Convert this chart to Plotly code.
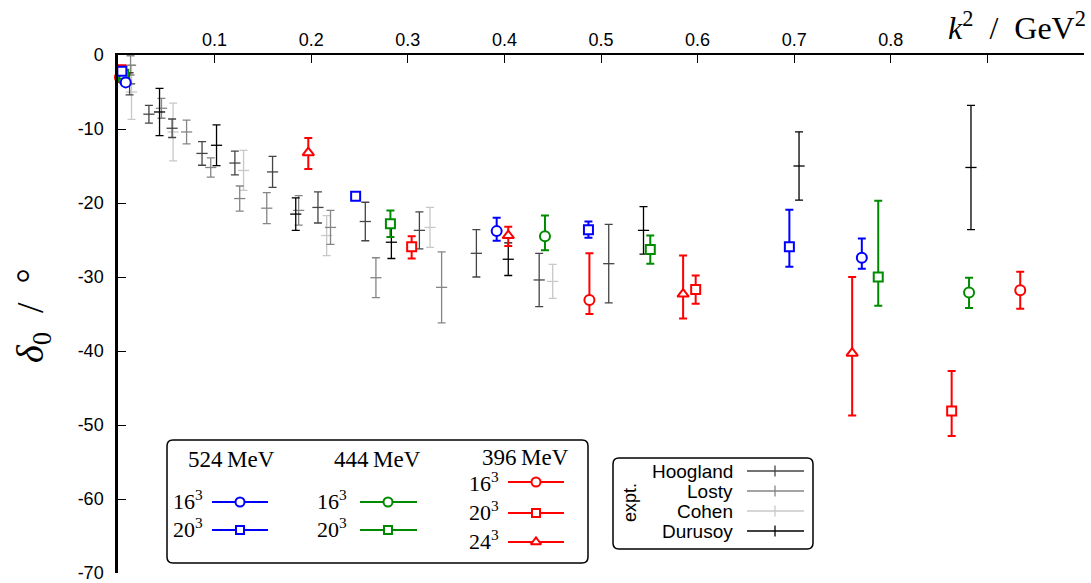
import plotly.graph_objects as go

# ---------------- data (k^2 in GeV^2, delta_0 in degrees) ----------------
# Lattice, m_pi = 524 MeV
k2_524_16 = [0.008, 0.392, 0.770]
d0_524_16 = [-3.7, -23.8, -27.4]
ep_524_16 = [0.5, 1.8, 2.6]
em_524_16 = [0.5, 1.3, 1.5]

k2_524_20 = [0.004, 0.246, 0.487, 0.695]
d0_524_20 = [-2.2, -19.1, -23.6, -25.9]
ep_524_20 = [0.4, 0.3, 1.1, 5.0]
em_524_20 = [0.4, 0.3, 1.1, 2.7]

# Lattice, m_pi = 444 MeV
k2_444_16 = [0.006, 0.442, 0.881]
d0_444_16 = [-3.3, -24.5, -32.1]
ep_444_16 = [0.5, 2.8, 2.0]
em_444_16 = [0.5, 1.9, 2.1]

k2_444_20 = [0.006, 0.282, 0.551, 0.787]
d0_444_20 = [-2.6, -22.8, -26.3, -30.0]
ep_444_20 = [0.4, 1.8, 1.9, 10.3]
em_444_20 = [0.4, 1.8, 1.9, 3.9]

# Lattice, m_pi = 396 MeV
k2_396_16 = [0.002, 0.488, 0.934]
d0_396_16 = [-3.0, -33.1, -31.8]
ep_396_16 = [0.5, 6.3, 2.5]
em_396_16 = [0.5, 1.9, 2.5]

k2_396_20 = [0.003, 0.304, 0.598, 0.863]
d0_396_20 = [-2.0, -25.9, -31.7, -48.1]
ep_396_20 = [0.4, 1.4, 1.9, 5.4]
em_396_20 = [0.4, 1.6, 1.9, 3.4]

k2_396_24 = [0.197, 0.404, 0.585, 0.760]
d0_396_24 = [-13.2, -24.4, -32.3, -40.3]
ep_396_24 = [2.0, 1.2, 5.2, 10.3]
em_396_24 = [2.2, 1.4, 3.3, 8.4]

# Experiment
k2_hoogland = [0.012, 0.032, 0.056, 0.087, 0.121, 0.160, 0.207, 0.256, 0.312, 0.371, 0.436, 0.508]
d0_hoogland = [-3.9, -8.0, -9.9, -13.3, -14.6, -15.8, -20.6, -22.5, -23.7, -26.8, -30.4, -28.2]
er_hoogland = [1.5, 1.2, 1.25, 1.6, 1.6, 2.1, 2.1, 2.6, 2.5, 3.2, 3.6, 5.3]

k2_losty = [0.013, 0.045, 0.071, 0.096, 0.126, 0.154, 0.187, 0.220, 0.267, 0.335]
d0_losty = [-1.4, -7.2, -10.4, -15.2, -19.4, -20.7, -21.0, -23.3, -30.1, -31.4]
er_losty = [1.3, 1.35, 1.6, 1.3, 1.7, 2.1, 2.0, 2.3, 2.7, 4.8]

k2_cohen = [0.014, 0.057, 0.130, 0.216, 0.323, 0.450]
d0_cohen = [-5.0, -10.4, -15.6, -24.4, -23.3, -30.6]
er_cohen = [3.7, 3.9, 2.7, 2.7, 2.7, 2.3]

k2_durusoy = [0.043, 0.102, 0.184, 0.283, 0.404, 0.544, 0.705, 0.883]
d0_durusoy = [-7.7, -12.2, -21.5, -25.3, -27.6, -23.7, -15.0, -15.2]
er_durusoy = [3.2, 2.75, 2.2, 2.2, 2.2, 3.2, 4.6, 8.4]

x_tick_vals = [0, 0.1, 0.2, 0.3, 0.4, 0.5, 0.6, 0.7, 0.8, 0.9, 1.0]
x_tick_text = ["", "0.1", "0.2", "0.3", "0.4", "0.5", "0.6", "0.7", "0.8", "", ""]
y_tick_vals = [0, -10, -20, -30, -40, -50, -60, -70]
y_tick_text = ["0", "-10", "-20", "-30", "-40", "-50", "-60", "-70"]

# ---------------- styles ----------------
BLUE, GREEN, RED = "#0000ff", "#008a00", "#ff0000"
C_HOOG, C_LOSTY, C_COHEN, C_DUR = "#454545", "#858585", "#c8c8c8", "#000000"
SANS = "Liberation Sans, Arial, sans-serif"
SERIF = "Liberation Serif, Times New Roman, serif"

W, H = 1091, 583
ML, MR, MT, MB = 118, 7, 55, 10
PW, PH = W - ML - MR, H - MT - MB

fig = go.Figure()

expt = [
    ("Cohen", k2_cohen, d0_cohen, er_cohen, C_COHEN),
    ("Losty", k2_losty, d0_losty, er_losty, C_LOSTY),
    ("Hoogland", k2_hoogland, d0_hoogland, er_hoogland, C_HOOG),
    ("Durusoy", k2_durusoy, d0_durusoy, er_durusoy, C_DUR),
]
for name, xs, ys, es, col in expt:
    fig.add_trace(go.Scatter(
        x=xs, y=ys, mode="markers", name=name, cliponaxis=False,
        marker=dict(symbol="line-ew", size=8, color=col, line=dict(color=col, width=1.3)),
        error_y=dict(type="data", array=es, visible=True, color=col, thickness=1.3, width=4),
    ))

lattice = [
    ("396 16", k2_396_16, d0_396_16, ep_396_16, em_396_16, RED, "circle"),
    ("396 20", k2_396_20, d0_396_20, ep_396_20, em_396_20, RED, "square"),
    ("396 24", k2_396_24, d0_396_24, ep_396_24, em_396_24, RED, "triangle-up"),
    ("444 16", k2_444_16, d0_444_16, ep_444_16, em_444_16, GREEN, "circle"),
    ("444 20", k2_444_20, d0_444_20, ep_444_20, em_444_20, GREEN, "square"),
    ("524 16", k2_524_16, d0_524_16, ep_524_16, em_524_16, BLUE, "circle"),
    ("524 20", k2_524_20, d0_524_20, ep_524_20, em_524_20, BLUE, "square"),
]
MSIZE = {"circle": 10, "square": 9, "triangle-up": 10}
for name, xs, ys, ep, em, col, sym in lattice:
    fig.add_trace(go.Scatter(
        x=xs, y=ys, mode="markers", name=name, cliponaxis=False,
        marker=dict(symbol=sym, size=MSIZE[sym], color="white", line=dict(color=col, width=2)),
        error_y=dict(type="data", symmetric=False, array=ep, arrayminus=em, visible=True,
                     color=col, thickness=2, width=4),
    ))

# ---------------- legend decorations (pixel layout -> paper coords) ----------------
def px(xp):
    return (xp - ML) / PW

def py(yp):
    return (H - MB - yp) / PH

def rrect(x0, y0, x1, y1, r=6):
    rx, ry = r / PW, r / PH
    a, b, c, d = px(x0), px(x1), py(y0), py(y1)  # c top, d bottom
    return (f"M{a+rx},{c} L{b-rx},{c} Q{b},{c} {b},{c-ry} L{b},{d+ry} Q{b},{d} {b-rx},{d} "
            f"L{a+rx},{d} Q{a},{d} {a},{d+ry} L{a},{c-ry} Q{a},{c} {a+rx},{c} Z")

shapes = [
    dict(type="path", xref="paper", yref="paper", path=rrect(167, 440, 588, 563),
         line=dict(color="black", width=1.5)),
    dict(type="path", xref="paper", yref="paper", path=rrect(613, 458, 813, 549),
         line=dict(color="black", width=1.5)),
]

annotations = []
def ann(text, x, y, size, family, xanchor="center", angle=0):
    annotations.append(dict(text=text, x=px(x), y=py(y), xref="paper", yref="paper",
                            xanchor=xanchor, yanchor="middle", showarrow=False, textangle=angle,
                            font=dict(size=size, family=family, color="black")))

# lattice legend
ann("524\u2009MeV", 231, 459, 23, SERIF)
ann("444\u2009MeV", 377, 459, 23, SERIF)
ann("396\u2009MeV", 525, 457, 23, SERIF)
lat_leg = [
    ("16<sup>3</sup>", 205, 500, 212, 268, 240, BLUE, "circle"),
    ("20<sup>3</sup>", 205, 528, 212, 268, 240, BLUE, "square"),
    ("16<sup>3</sup>", 349, 500, 360, 417, 388, GREEN, "circle"),
    ("20<sup>3</sup>", 349, 528, 360, 417, 388, GREEN, "square"),
    ("16<sup>3</sup>", 501, 482, 508, 564, 536, RED, "circle"),
    ("20<sup>3</sup>", 501, 511, 508, 564, 536, RED, "square"),
    ("24<sup>3</sup>", 501, 540, 508, 564, 536, RED, "triangle-up"),
]
LINE_Y = {500: 502, 528: 530, 482: 482, 511: 513, 540: 542}
for txt, tx, ty, l0, l1, mx, col, sym in lat_leg:
    ann(txt, tx, ty, 22, SERIF, xanchor="right")
    ly = LINE_Y[ty]
    fig.add_trace(go.Scatter(x=[px(l0), px(l1)], y=[py(ly), py(ly)], mode="lines",
                             line=dict(color=col, width=2), xaxis="x2", yaxis="y2", hoverinfo="skip"))
    fig.add_trace(go.Scatter(x=[px(mx)], y=[py(ly)], mode="markers", xaxis="x2", yaxis="y2",
                             marker=dict(symbol=sym, size=MSIZE[sym] - 1, color="white",
                                         line=dict(color=col, width=2)), hoverinfo="skip"))

# experiment legend
ann("expt.", 630, 503, 18, SANS, angle=-90)
exp_leg = [("Hoogland", 471, C_HOOG), ("Losty", 491, C_LOSTY), ("Cohen", 511, C_COHEN), ("Durusoy", 531, C_DUR)]
for txt, ty, col in exp_leg:
    ann(txt, 735, ty, 19, SANS, xanchor="right")
    fig.add_trace(go.Scatter(x=[px(747), px(804)], y=[py(ty), py(ty)], mode="lines",
                             line=dict(color=col, width=1.3), xaxis="x2", yaxis="y2", hoverinfo="skip"))
    fig.add_trace(go.Scatter(x=[px(775)], y=[py(ty)], mode="markers", xaxis="x2", yaxis="y2",
                             marker=dict(symbol="line-ns", size=8, line=dict(color=col, width=1.3)),
                             hoverinfo="skip"))

# axis titles
ann("<i>k</i><sup>2</sup>\u2002/\u2002GeV<sup>2</sup>", 1088, 26, 32, SERIF, xanchor="right")
ann("<i>δ</i><sub>0</sub>\u2002/\u2002°", 33, 316, 38, SERIF, angle=-90)

fig.update_layout(
    width=W, height=H, margin=dict(l=ML, r=MR, t=MT, b=MB, autoexpand=False),
    paper_bgcolor="white", plot_bgcolor="white", showlegend=False,
    shapes=shapes, annotations=annotations,
    xaxis=dict(range=[0, 1.0], side="top", tickvals=x_tick_vals, ticktext=x_tick_text,
               ticks="inside", ticklen=8, tickwidth=1.2, tickcolor="black",
               showline=True, linecolor="black", linewidth=1.5, showgrid=False, zeroline=False,
               ticklabeloverflow="allow", automargin=False,
               tickfont=dict(family=SANS, size=18, color="black")),
    yaxis=dict(range=[-70, 0], tickvals=y_tick_vals, ticktext=y_tick_text,
               ticks="inside", ticklen=8, tickwidth=1.2, tickcolor="black",
               showline=True, linecolor="black", linewidth=2.5, showgrid=False, zeroline=False,
               ticklabelstandoff=8, ticklabeloverflow="allow", automargin=False,
               tickfont=dict(family=SANS, size=18, color="black")),
    xaxis2=dict(range=[0, 1], overlaying="x", visible=False, anchor="y2", automargin=False),
    yaxis2=dict(range=[0, 1], overlaying="y", visible=False, anchor="x2", automargin=False),
)

fig.write_html("out.html")
